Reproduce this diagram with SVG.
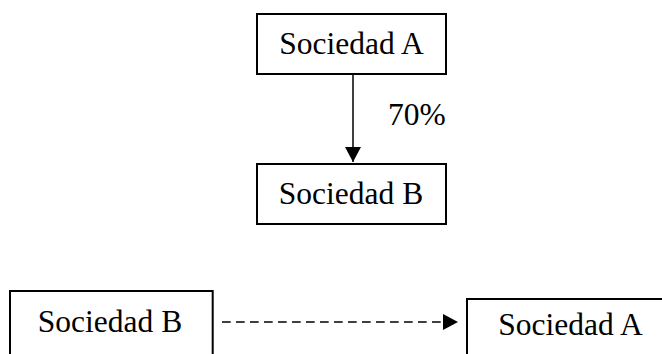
<svg xmlns="http://www.w3.org/2000/svg" width="662" height="354" viewBox="0 0 662 354">
  <style>
    .box { fill: #ffffff; stroke: #000000; stroke-width: 2; }
    .label { font-family: "Liberation Serif", "Times New Roman", serif; font-size: 31.5px; fill: #000000; }
    .link { fill: none; stroke: #000000; stroke-width: 1.5; }
    .dashed { stroke-dasharray: 8.7 5.3; stroke-width: 1.7; }
  </style>
  <defs>
    <marker id="head" viewBox="0 0 15 16" refX="15" refY="8" markerWidth="15" markerHeight="16" markerUnits="userSpaceOnUse" orient="auto">
      <path d="M0,0 L15,8 L0,16 Z" fill="#000000"/>
    </marker>
  </defs>

  <g id="connectors">
    <line class="link" x1="353" y1="74" x2="353" y2="162" marker-end="url(#head)"/>
    <line class="link dashed" x1="222" y1="322" x2="458" y2="322" marker-end="url(#head)"/>
  </g>

  <g id="sociedad-a-top">
    <rect class="box" x="257" y="14" width="189" height="60"/>
    <text class="label" x="351.5" y="54" text-anchor="middle">Sociedad A</text>
  </g>

  <g id="percentage">
    <text class="label" x="388" y="125">70%</text>
  </g>

  <g id="sociedad-b-middle">
    <rect class="box" x="257" y="164" width="189" height="60"/>
    <text class="label" x="351" y="204" text-anchor="middle">Sociedad B</text>
  </g>

  <g id="sociedad-b-bottom">
    <rect class="box" x="10" y="291" width="202.7" height="80"/>
    <text class="label" x="110" y="332" text-anchor="middle">Sociedad B</text>
  </g>

  <g id="sociedad-a-bottom">
    <rect class="box" x="467" y="299" width="220" height="80"/>
    <text class="label" x="570.5" y="335" text-anchor="middle">Sociedad A</text>
  </g>
</svg>
